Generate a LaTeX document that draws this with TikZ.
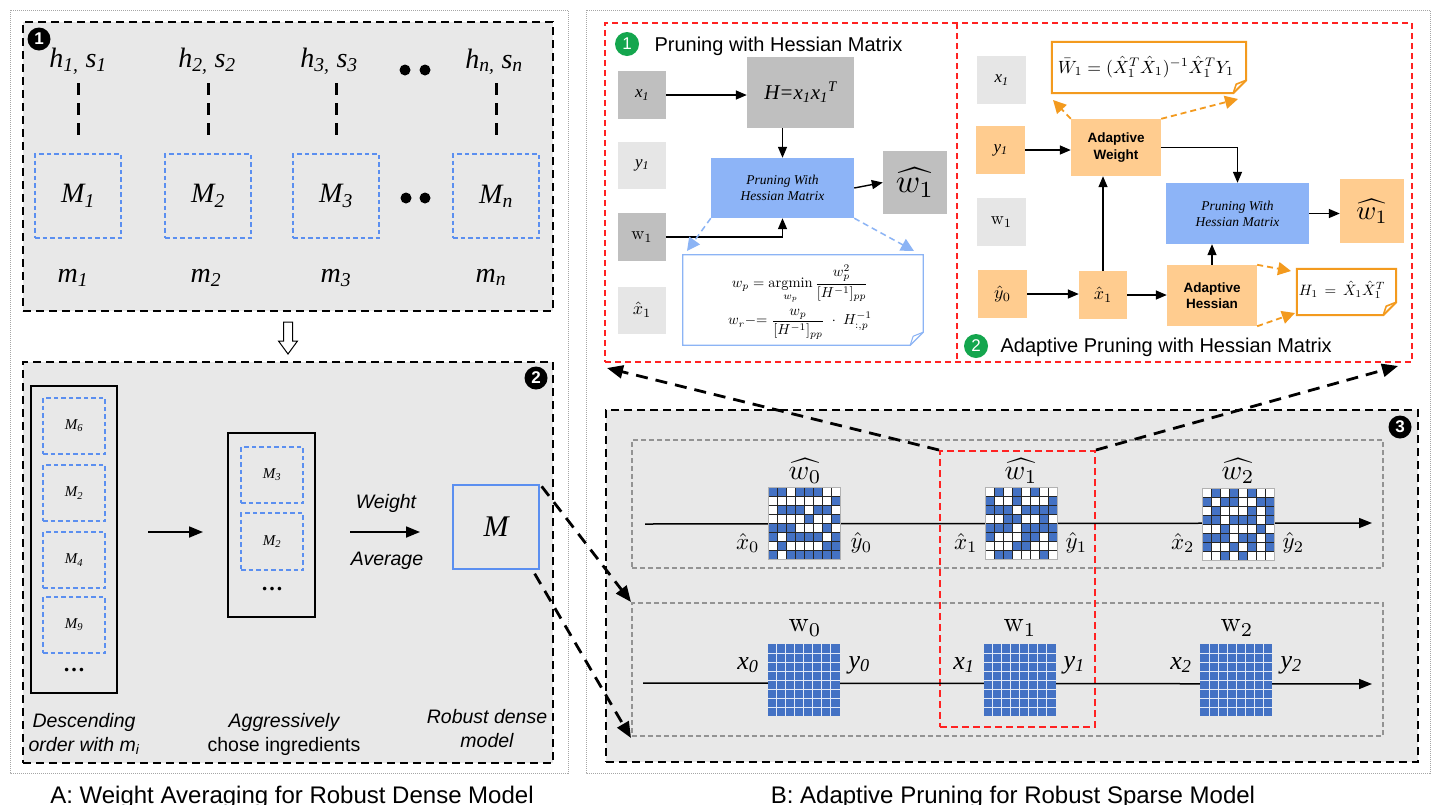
\documentclass[tikz,border=0pt]{standalone}
\usepackage{amsmath}
\usepackage{graphicx}
\usepackage{fontspec}
\usetikzlibrary{arrows.meta}
\newfontfamily\arialf{Liberation Sans}
\newfontfamily\timesf{Liberation Serif}
\newcommand{\fsz}[1]{\fontsize{#1}{#1}\selectfont}
\newcommand{\smath}[2]{\scalebox{#1}{\fontsize{10}{12}\selectfont$#2$}}
\definecolor{panelgray}{HTML}{E8E8E8}
\definecolor{boxgray}{HTML}{BFBFBF}
\definecolor{lgray}{HTML}{E6E6E6}
\definecolor{pblue}{HTML}{8DB4F7}
\definecolor{mblue}{HTML}{5B8FF0}
\definecolor{matblue}{HTML}{4472C4}
\definecolor{redd}{HTML}{FF2222}
\definecolor{orfill}{HTML}{FFCC8F}
\definecolor{orline}{HTML}{F39A1E}
\definecolor{gbad}{HTML}{14A64E}
\definecolor{noteblue}{HTML}{8CB4F5}

\newcommand{\sparsemat}[2]{%
  \begin{scope}[shift={(#1.north west)}]
    \fill[white] (0,0) rectangle (72,72);
    \foreach \row [count=\r] in {#2} {
      \foreach \v [count=\k] in \row {
        \ifnum\v=1 \fill[matblue] ({(\k-1)*9},{(\r-1)*9}) rectangle ++(9,9); \fi
      }
    }
    \foreach \i in {0,...,8} {
      \draw[black!85, line width=0.7pt] ({\i*9},0) -- ({\i*9},72);
      \draw[black!85, line width=0.7pt] (0,{\i*9}) -- (72,{\i*9});
    }
    \draw[gray!60, line width=1pt] (0,0) rectangle (72,72);
  \end{scope}}
\newcommand{\densemat}[1]{%
  \begin{scope}[shift={(#1.north west)}]
    \fill[matblue] (0,0) rectangle (72,72);
    \foreach \i in {1,...,7} {
      \draw[white!85!matblue, line width=1pt] ({\i*9},0) -- ({\i*9},72);
      \draw[white!85!matblue, line width=1pt] (0,{\i*9}) -- (72,{\i*9});
    }
  \end{scope}}
\newcommand{\notefold}[3]{% node, colour, width
  \draw[#2, line width=#3, fill=white] (#1.north west) -- (#1.north east) -- ([yshift=13pt]#1.south east)
     -- ([xshift=-13pt]#1.south east) -- (#1.south west) -- cycle;
  \draw[#2, line width=#3*0.8, line join=round] ([yshift=13pt]#1.south east) -- ([xshift=-10pt,yshift=9pt]#1.south east) -- ([xshift=-13pt]#1.south east);}

\begin{document}
\begin{tikzpicture}[x=1pt,y=-1pt,
  dotframe/.style={draw=gray!70, line width=0.8pt, dash pattern=on 1pt off 1pt},
  panelbox/.style={draw=black, line width=2.4pt, dash pattern=on 8pt off 5pt, fill=panelgray, inner sep=0pt},
  vdash/.style={line width=3pt, dash pattern=on 12pt off 8pt},
  mbox/.style={draw=mblue, line width=1.3pt, dash pattern=on 4.5pt off 3pt, inner sep=0pt},
  hlab/.style={font={\timesf\itshape\fsz{28}}, anchor=base},
  badge/.style={circle, fill=black, text=white, font={\arialf\bfseries\fsz{17}}, minimum size=23pt, inner sep=0pt},
  gbadge/.style={circle, fill=gbad, text=white, font={\arialf\fsz{17}}, minimum size=24pt, inner sep=0pt},
  arr/.style={line width=1.4pt, -{Triangle[length=11pt,width=9pt]}},
  bigarr/.style={line width=1.8pt, -{Triangle[length=14pt,width=11pt]}},
  bigdash/.style={line width=2.8pt, dash pattern=on 12pt off 8pt, -{Triangle[length=16pt,width=13pt]}},
  bluedash/.style={draw=noteblue, line width=1.5pt, dash pattern=on 6pt off 4pt, -{Triangle[length=13pt,width=13pt,fill=noteblue]}},
  ordash/.style={draw=orline, line width=1.8pt, dash pattern=on 6pt off 4pt, -{Triangle[length=13pt,width=13pt,fill=orline]}},
  gbox/.style={inner sep=0pt, draw=none},
  sanslab/.style={font={\arialf\itshape\fontsize{19.5}{24}\selectfont}, align=center, anchor=base},
  seriflab/.style={font={\timesf\itshape\fsz{26}}},
  matnode/.style={inner sep=0pt, minimum width=72pt, minimum height=72pt},
  graydash/.style={draw=gray!85, line width=1.3pt, dash pattern=on 5pt off 3pt},
  reddash/.style={draw=redd, line width=1.6pt, dash pattern=on 6pt off 4pt},
  flow/.style={line width=1.5pt, -{Triangle[length=13pt,width=10pt]}}
]
\useasboundingbox (0,0) rectangle (1437,804);
\fill[white] (0,0) rectangle (1437,804);

% ---------- outer frames ----------
\draw[dotframe] (10,10) rectangle (568,773);
\draw[dotframe] (586,10) rectangle (1430,773);

% ================= PANEL A =================
\node[panelbox, minimum width=530pt, minimum height=289pt] (box1) at (288,166.5) {};
\node[badge] (b1) at (39,39) {1};

\node[hlab] (h1) at (78,67) {h\textsubscript{1,} s\textsubscript{1}};
\node[hlab] (h2) at (207,67) {h\textsubscript{2,} s\textsubscript{2}};
\node[hlab] (h3) at (329,67) {h\textsubscript{3,} s\textsubscript{3}};
\node[hlab] (hn) at (494,68) {h\textsubscript{n,} s\textsubscript{n}};
\fill (405,70) circle[radius=5.5pt];
\fill (425,70) circle[radius=5.5pt];

\node[mbox, minimum width=86pt, minimum height=84pt, font={\timesf\itshape\fsz{28}}] (M1) at (78,196) {M\textsubscript{1}};
\node[mbox, minimum width=86pt, minimum height=84pt, font={\timesf\itshape\fsz{28}}] (M2) at (208,196) {M\textsubscript{2}};
\node[mbox, minimum width=86pt, minimum height=84pt, font={\timesf\itshape\fsz{28}}] (M3) at (336,196) {M\textsubscript{3}};
\node[mbox, minimum width=86pt, minimum height=84pt, font={\timesf\itshape\fsz{28}}] (Mn) at (496,196) {M\textsubscript{n}};
\fill (406,198) circle[radius=5.5pt];
\fill (425,198) circle[radius=5.5pt];

\foreach \m in {M1,M2,M3,Mn}
  \draw[vdash] ([yshift=70pt]\m.north) -- ([yshift=17pt]\m.north);

\node[hlab] (m1) at (73,282) {m\textsubscript{1}};
\node[hlab] (m2) at (206,282) {m\textsubscript{2}};
\node[hlab] (m3) at (336,282) {m\textsubscript{3}};
\node[hlab] (mn) at (491,282) {m\textsubscript{n}};

% hollow arrow
\draw[line width=1pt, fill=white] (283.5,322) -- (292.5,322) -- (292.5,341) -- (297.5,341) -- (288,354) -- (278.5,341) -- (283.5,341) -- cycle;

% Box 2
\node[panelbox, minimum width=530pt, minimum height=401pt] (box2) at (288,562.5) {};
\node[badge] (b2) at (536,378) {2};

\node[draw, line width=1.3pt, minimum width=86pt, minimum height=307pt, inner sep=0pt] (col1) at (74,539.5) {};
\node[mbox, minimum width=62pt, minimum height=56pt, font={\timesf\itshape\fsz{15}}] (c1a) at (74,426) {M\textsubscript{6}};
\node[mbox, minimum width=62pt, minimum height=56pt, font={\timesf\itshape\fsz{15}}] (c1b) at (74,493) {M\textsubscript{2}};
\node[mbox, minimum width=62pt, minimum height=56pt, font={\timesf\itshape\fsz{15}}] (c1c) at (74,560) {M\textsubscript{4}};
\node[mbox, minimum width=62pt, minimum height=56pt, font={\timesf\itshape\fsz{15}}] (c1d) at (74,625) {M\textsubscript{9}};
\node[font={\timesf\bfseries\fsz{22}}] (d1) at (74,670) {…};

\coordinate (a1s) at (148,532);
\coordinate (a1e) at (203,532);
\draw[bigarr] (a1s) -- (a1e);

\node[draw, line width=1.3pt, minimum width=87pt, minimum height=184pt, inner sep=0pt] (col2) at (271.5,525) {};
\node[mbox, minimum width=62pt, minimum height=56pt, font={\timesf\itshape\fsz{15}}] (c2a) at (272,475) {M\textsubscript{3}};
\node[mbox, minimum width=62pt, minimum height=57pt, font={\timesf\itshape\fsz{15}}] (c2b) at (272,541.5) {M\textsubscript{2}};
\node[font={\timesf\bfseries\fsz{22}}] (d2) at (272,589) {…};

\node[sanslab] (wt) at (386,508) {Weight};
\node[sanslab] (av) at (387,565) {Average};
\coordinate (a2s) at (350,532);
\coordinate (a2e) at (420,532);
\draw[bigarr] (a2s) -- (a2e);

\node[draw=mblue, line width=1.3pt, minimum width=86pt, minimum height=84pt, inner sep=0pt, font={\timesf\itshape\fsz{30}}] (Mbig) at (496,527) {M};

\node[sanslab] (lb1) at (84,751) {Descending\\order with m\textsubscript{i}};
\node[sanslab] (lb2) at (284,751) {Aggressively\\{\upshape chose ingredients}};
\node[sanslab] (lb3) at (487,747) {Robust dense\\model};

\node[anchor=base, font={\arialf\fsz{24}}] (capA) at (292,803) {A: Weight Averaging for Robust Dense Model};
\node[anchor=base, font={\arialf\fsz{24}}] (capB) at (1013,803) {B: Adaptive Pruning for Robust Sparse Model};

% ================= PANEL B top =================
\node[reddash, minimum width=807pt, minimum height=339pt, inner sep=0pt] (redtop) at (1008.5,192.5) {};
\draw[reddash] (957,23) -- (957,362);

% ---- sub-panel 1
\node[gbadge] (g1) at (627,44) {1};
\node[anchor=base west, font={\arialf\fsz{20}}] (t1) at (651,51) {Pruning with Hessian Matrix};

\node[gbox, fill=boxgray, minimum width=48pt, minimum height=48pt, font={\timesf\itshape\fsz{17}}] (px1) at (642,95) {x\textsubscript{1}};
\node[gbox, fill=lgray, minimum width=48pt, minimum height=47pt, font={\timesf\itshape\fsz{17}}] (py1) at (642,165) {y\textsubscript{1}};
\node[gbox, fill=boxgray, minimum width=48pt, minimum height=48pt] (pw1) at (642,237) {\smath{1.8}{\mathrm{w}_1}};
\node[gbox, fill=lgray, minimum width=48pt, minimum height=47pt] (pxh1) at (642,310) {\smath{1.8}{\hat{x}_1}};
\node[gbox, fill=boxgray, minimum width=107pt, minimum height=71pt, font={\timesf\itshape\fsz{21}}] (pH) at (800.5,92.5) {H=x\textsubscript{1}x\textsubscript{1}\textsuperscript{T}};
\node[gbox, fill=pblue, minimum width=143pt, minimum height=60pt, align=center, font={\timesf\itshape\fontsize{13.5}{16}\selectfont}] (pPr) at (782.5,188) {Pruning With\\Hessian Matrix};
\node[gbox, fill=boxgray, minimum width=64pt, minimum height=63pt] (pwh) at (915,182.5) {\smath{3.3}{\widehat{w_1}}};

\draw[arr] (px1.east) -- (px1.east -| pH.west);
\draw[arr] (pPr.north |- pH.south) -- (pPr.north);
\draw[arr] (pPr.east) -- (pwh.west);
\draw[arr] (pw1.east) -| (pPr.south);

\node[gbox, minimum width=240pt, minimum height=90pt] (pnote) at (803,300) {};
\notefold{pnote}{noteblue}{1.3pt}
\node[inner sep=0pt] (f1) at (800,284) {\smath{1.45}{\displaystyle w_p = \operatorname*{argmin}_{w_p}\frac{w_p^2}{[H^{-1}]_{pp}}}};
\node[inner sep=0pt] (f2) at (800,324) {\smath{1.45}{\displaystyle w_r{-}{=}\;\frac{w_p}{[H^{-1}]_{pp}}\;\cdot\;H^{-1}_{:,p}}};
\coordinate (pn1) at (687,251);
\coordinate (pn2) at (914,251);
\draw[bluedash] (pPr.south west) -- (pn1);
\draw[bluedash] (pPr.south east) -- (pn2);

% ---- sub-panel 2
\node[gbox, fill=lgray, minimum width=49pt, minimum height=48pt, font={\timesf\itshape\fsz{17}}] (qx1) at (1001.5,80) {x\textsubscript{1}};
\node[gbox, fill=orfill, minimum width=49pt, minimum height=48pt, font={\timesf\itshape\fsz{17}}] (qy1) at (1000.5,150) {y\textsubscript{1}};
\node[gbox, fill=lgray, minimum width=49pt, minimum height=48pt] (qw1) at (1001.5,222) {\smath{1.8}{\mathrm{w}_1}};
\node[gbox, fill=orfill, minimum width=49pt, minimum height=48pt] (qy0) at (1002.5,294) {\smath{1.8}{\hat{y}_0}};
\node[gbox, fill=orfill, minimum width=90pt, minimum height=57pt, align=center, font={\arialf\bfseries\fontsize{13.5}{17}\selectfont}] (qAW) at (1116,147.5) {Adaptive\\Weight};
\node[gbox, fill=orfill, minimum width=48pt, minimum height=48pt] (qxh) at (1103,295) {\smath{1.8}{\hat{x}_1}};
\node[gbox, fill=orfill, minimum width=90pt, minimum height=61pt, align=center, font={\arialf\bfseries\fontsize{13.5}{16}\selectfont}] (qAH) at (1212,295.5) {Adaptive\\Hessian};
\node[gbox, fill=pblue, minimum width=143pt, minimum height=61pt, align=center, font={\timesf\itshape\fontsize{13.5}{16}\selectfont}] (qPr) at (1237.5,213.5) {Pruning With\\Hessian Matrix};
\node[gbox, fill=orfill, minimum width=64pt, minimum height=64pt] (qwh) at (1372,211) {\smath{2.7}{\widehat{w_1}}};

\node[gbox, minimum width=194pt, minimum height=51pt] (qnote) at (1149,67.5) {};
\notefold{qnote}{orline}{2pt}
\node (f3) at (1146,67) {\smath{1.77}{\bar{W}_1 = (\hat{X}_1^T\hat{X}_1)^{-1}\hat{X}_1^TY_1}};
\node[gbox, minimum width=99pt, minimum height=46pt] (qHnote) at (1346.5,292) {};
\notefold{qHnote}{orline}{2pt}
\node (f4) at (1342,290) {\smath{1.5}{H_1\,=\,\hat{X}_1\hat{X}_1^T}};

\draw[arr] (qy1.east) -- (qy1.east -| qAW.west);
\draw[arr] (qAW.east) -| (qPr.north);
\draw[arr] (qxh.north) -- (qxh.north |- qAW.south);
\draw[arr] (qy0.east) -- (qy0.east -| qxh.west);
\draw[arr] (qxh.east) -- (qxh.east -| qAH.west);
\draw[arr] (qAH.north) -- (qAH.north |- qPr.south);
\draw[arr] (qPr.east) -- (qPr.east -| qwh.west);

\coordinate (qo1) at (1053,100);
\coordinate (qo2) at (1238,99);
\coordinate (qo3) at (1291,271);
\coordinate (qo4) at (1295,313);
\draw[ordash] (qAW.north west) -- (qo1);
\draw[ordash] (qAW.north east) -- (qo2);
\draw[ordash] (qAH.north east) -- (qo3);
\draw[ordash] (qAH.south east) -- (qo4);

\node[gbadge] (g2) at (976,346) {2};
\node[anchor=base west, font={\arialf\fsz{20}}] (t2) at (997,352) {Adaptive Pruning with Hessian Matrix};

% ================= PANEL B bottom =================
\node[panelbox, minimum width=812pt, minimum height=352pt] (box3) at (1012,586) {};
\node[badge] (b3) at (1400,427) {3};

\node[graydash, minimum width=751pt, minimum height=128pt, inner sep=0pt] (row1) at (1007.5,504) {};
\node[graydash, minimum width=751pt, minimum height=133pt, inner sep=0pt] (row2) at (1007.5,669.5) {};
\node[draw=redd, line width=2pt, dash pattern=on 7pt off 4pt, minimum width=155pt, minimum height=276pt, inner sep=0pt] (redcol) at (1017.5,589) {};

\coordinate (l1s) at (645,524);
\coordinate (l1e) at (1372,523);
\draw[flow] (l1s) -- (l1e);
\coordinate (l2s) at (643,683);
\coordinate (l2e) at (1372,684);
\draw[flow] (l2s) -- (l2e);

\node[matnode] (W0h) at (805,523.5) {};
\node[matnode] (W1h) at (1021.5,523.5) {};
\node[matnode] (W2h) at (1238.5,524.5) {};
\sparsemat{W0h}{{1,1,0,1,1,1,0,0},{0,0,0,0,0,0,0,1},{0,1,1,1,0,1,1,0},{0,0,0,0,1,0,0,1},{1,1,1,0,0,0,1,0},{1,0,1,1,1,1,0,1},{0,1,0,0,0,0,1,1},{1,0,1,1,1,1,1,1}}
\sparsemat{W1h}{{0,1,0,1,0,1,0,0},{1,0,0,1,0,0,0,1},{1,1,1,0,1,1,1,1},{0,0,1,1,0,0,1,0},{1,1,1,0,1,1,1,1},{1,0,0,0,1,1,0,1},{0,0,0,1,1,0,0,0},{0,1,1,0,0,0,1,0}}
\sparsemat{W2h}{{0,1,0,1,0,1,0,0},{1,0,1,1,0,0,1,1},{0,1,0,0,0,1,0,1},{1,1,0,1,1,1,0,1},{0,0,1,0,0,0,1,0},{1,1,1,0,1,1,0,1},{1,0,0,1,0,1,0,1},{0,0,1,0,1,0,0,0}}

\node[matnode] (W0) at (804,680.5) {};
\node[matnode] (W1) at (1020,680.5) {};
\node[matnode] (W2) at (1236.5,680.5) {};
\densemat{W0}
\densemat{W1}
\densemat{W2}

% labels top row
\node (lw0h) at (805,471) {\smath{2.8}{\widehat{w_0}}};
\node (lw1h) at (1021,471) {\smath{2.8}{\widehat{w_1}}};
\node (lw2h) at (1238,471) {\smath{2.8}{\widehat{w_2}}};
\node[anchor=east] (lx0h) at (763,543) {\smath{2.3}{\hat{x}_0}};
\node[anchor=west] (ly0h) at (847,543) {\smath{2.3}{\hat{y}_0}};
\node[anchor=east] (lx1h) at (981,543) {\smath{2.3}{\hat{x}_1}};
\node[anchor=west] (ly1h) at (1062,543) {\smath{2.3}{\hat{y}_1}};
\node[anchor=east] (lx2h) at (1198,543) {\smath{2.3}{\hat{x}_2}};
\node[anchor=west] (ly2h) at (1279,543) {\smath{2.3}{\hat{y}_2}};

% labels bottom row
\node (lw0) at (805,628) {\smath{2.8}{\mathrm{w}_0}};
\node (lw1) at (1020,628) {\smath{2.8}{\mathrm{w}_1}};
\node (lw2) at (1237,628) {\smath{2.8}{\mathrm{w}_2}};
\node[seriflab, anchor=east] (lx0) at (762,665) {x\textsubscript{0}};
\node[seriflab, anchor=west] (ly0) at (845,665) {y\textsubscript{0}};
\node[seriflab, anchor=east] (lx1) at (978,665) {x\textsubscript{1}};
\node[seriflab, anchor=west] (ly1) at (1060,665) {y\textsubscript{1}};
\node[seriflab, anchor=east] (lx2) at (1195,665) {x\textsubscript{2}};
\node[seriflab, anchor=west] (ly2) at (1277,665) {y\textsubscript{2}};

% ================= big dashed connectors =================
\coordinate (tipA) at (607,368);
\coordinate (tipB) at (1398,366);
\coordinate (tipC) at (631,602);
\coordinate (tipD) at (631,738);
\draw[bigdash] (redcol.north west) -- (tipA);
\draw[bigdash] (redcol.north east) -- (tipB);
\draw[bigdash] ([xshift=2pt,yshift=-2pt]Mbig.north east) -- (tipC);
\draw[bigdash] ([xshift=-5pt,yshift=-4pt]Mbig.south east) -- (tipD);
\end{tikzpicture}
\end{document}
